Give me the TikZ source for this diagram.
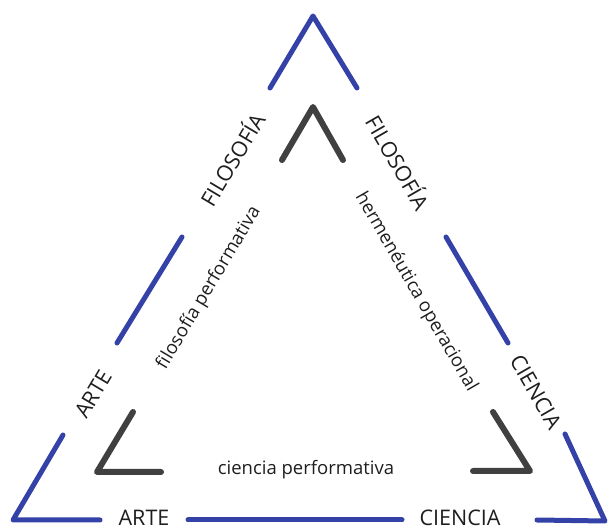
\documentclass[tikz,border=0pt]{standalone}
\usepackage{fontspec}
\setmainfont{Open Sans}
\definecolor{outerblue}{RGB}{52,66,168}
\definecolor{innergray}{RGB}{64,64,64}
\definecolor{txt}{RGB}{30,30,30}
\tikzset{
  outerline/.style={draw=outerblue,line width=5pt,line cap=round,line join=round},
  innerline/.style={draw=innergray,line width=6pt,line cap=round,line join=round},
  caplabel/.style={text=txt,font=\fontsize{21.5}{24}\selectfont,inner sep=0pt,text height=15.5pt,text depth=0pt},
  smalllabel/.style={text=txt,font=\fontsize{18.5}{21}\selectfont,inner sep=0pt}
}
\begin{document}
\begin{tikzpicture}[x=1pt,y=-1pt]
\useasboundingbox (0,0) rectangle (611,526);
% outer triangle coordinates
\coordinate (A) at (313,16);
\coordinate (L) at (13,520);
\coordinate (R) at (605,521);
\coordinate (a1) at (270,88);
\coordinate (a2) at (357,88);
\coordinate (l1) at (182,237);
\coordinate (l2) at (117,343);
\coordinate (l3) at (63,435);
\coordinate (b1) at (100,520);
\coordinate (b2) at (188,520);
\coordinate (b3) at (402,520);
\coordinate (b4) at (537,520);
\coordinate (r1) at (446,237);
\coordinate (r2) at (508,343);
\coordinate (r3) at (565,434);
% outer segments
\draw[outerline] (a1) -- (A) -- (a2);
\draw[outerline] (l1) -- (l2);
\draw[outerline] (l3) -- (L) -- (b1);
\draw[outerline] (b2) -- (b3);
\draw[outerline] (b4) -- (R) -- (r3);
\draw[outerline] (r1) -- (r2);
% inner corners
\coordinate (i1) at (282,160);
\coordinate (iA) at (313,107);
\coordinate (i2) at (343,160);
\coordinate (j1) at (133,412);
\coordinate (jL) at (97,472);
\coordinate (j2) at (161,472);
\coordinate (k1) at (493,412);
\coordinate (kR) at (530,471);
\coordinate (k2) at (473,471);
\draw[innerline] (i1) -- (iA) -- (i2);
\draw[innerline] (j1) -- (jL) -- (j2);
\draw[innerline] (k1) -- (kR) -- (k2);
% outer labels
\node[caplabel,rotate=59.2] (filL) at (233,160) {FILOSOFÍA};
\node[caplabel,rotate=-60] (filR) at (397,163) {FILOSOFÍA};
\node[caplabel,rotate=59.2] (arteL) at (93,394) {ARTE};
\node[caplabel,rotate=-60] (cienR) at (536,392) {CIENCIA};
\node[caplabel,anchor=base] (arteB) at (144,525.5) {ARTE};
\node[caplabel,anchor=base] (cienB) at (460,525.5) {CIENCIA};
% inner labels
\node[smalllabel,rotate=59.2] (fp) at (209,288) {filosofía performativa};
\node[smalllabel,rotate=-60] (ho) at (416,292) {hermenéutica operacional};
\node[smalllabel,anchor=base] (cp) at (306,475) {ciencia performativa};
\end{tikzpicture}
\end{document}
